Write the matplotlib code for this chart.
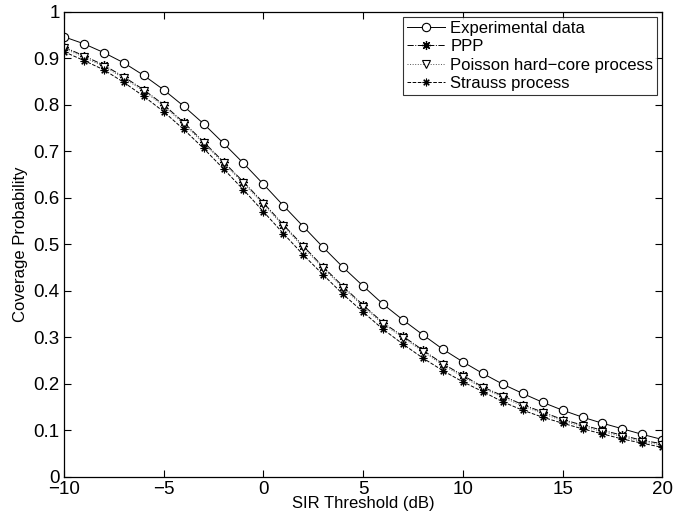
import matplotlib
matplotlib.use("Agg")
import matplotlib.pyplot as plt
import numpy as np

plt.rcParams['font.family'] = ['Liberation Sans', 'DejaVu Sans']
plt.rcParams['axes.unicode_minus'] = True

sir_db = list(range(-10, 21))

experimental = [0.946, 0.931, 0.912, 0.890, 0.863, 0.832, 0.797, 0.759, 0.717, 0.674,
                0.629, 0.583, 0.538, 0.493, 0.450, 0.410, 0.371, 0.337, 0.305, 0.274,
                0.247, 0.222, 0.199, 0.179, 0.160, 0.143, 0.128, 0.115, 0.103, 0.091, 0.080]

hard_core = [0.921, 0.902, 0.882, 0.857, 0.829, 0.797, 0.759, 0.717, 0.674, 0.631,
             0.586, 0.539, 0.493, 0.448, 0.406, 0.366, 0.328, 0.299, 0.269, 0.240,
             0.215, 0.190, 0.171, 0.152, 0.136, 0.120, 0.108, 0.097, 0.086, 0.075, 0.068]

ppp = [0.924, 0.905, 0.885, 0.860, 0.832, 0.800, 0.762, 0.720, 0.677, 0.634,
       0.589, 0.542, 0.496, 0.451, 0.409, 0.369, 0.331, 0.302, 0.272, 0.243,
       0.218, 0.193, 0.174, 0.155, 0.139, 0.123, 0.111, 0.100, 0.089, 0.078, 0.071]

strauss = [0.914, 0.895, 0.875, 0.848, 0.818, 0.785, 0.747, 0.706, 0.662, 0.617,
           0.570, 0.523, 0.477, 0.434, 0.392, 0.354, 0.317, 0.285, 0.255, 0.228,
           0.204, 0.183, 0.161, 0.143, 0.128, 0.115, 0.103, 0.092, 0.081, 0.072, 0.063]

series_labels = ['Experimental data', 'PPP', 'Poisson hard\u2212core process', 'Strauss process']
x_ticks = [-10, -5, 0, 5, 10, 15, 20]
y_ticks = [0, 0.1, 0.2, 0.3, 0.4, 0.5, 0.6, 0.7, 0.8, 0.9, 1]
y_tick_labels = ['0', '0.1', '0.2', '0.3', '0.4', '0.5', '0.6', '0.7', '0.8', '0.9', '1']

fig = plt.figure(figsize=(6.99, 5.23), dpi=100)
ax = fig.add_axes([64/699, 1 - 476.7/523, (662.3-64)/699, (476.7-11.7)/523])

lw = 0.7
asterisk = (8, 2, 0)
ax.plot(sir_db, experimental, '-', color='black', lw=lw, marker='o', ms=6,
        mfc='white', mec='black', mew=0.8, label=series_labels[0])
ax.plot(sir_db, ppp, '-.', color='black', lw=lw, marker=asterisk, ms=6.5,
        mec='black', mew=0.9, label=series_labels[1])
ax.plot(sir_db, hard_core, ':', color='#555555', lw=lw, marker='v', ms=6,
        mfc='white', mec='black', mew=0.8, label=series_labels[2])
ax.plot(sir_db, strauss, '--', color='black', lw=lw, marker=asterisk, ms=5.5,
        mec='black', mew=0.8, label=series_labels[3])

ax.set_xlim(-10, 20)
ax.set_ylim(0, 1)
ax.set_xticks(x_ticks)
ax.set_yticks(y_ticks)
ax.set_yticklabels(y_tick_labels)
ax.tick_params(direction='in', length=5, width=0.8, top=True, right=True,
               labelsize=13.5, pad=3)
for s in ax.spines.values():
    s.set_linewidth(0.9)
    s.set_color('black')

ax.set_xlabel('SIR Threshold (dB)', fontsize=12, labelpad=-1)
ax.set_ylabel('Coverage Probability', fontsize=12, labelpad=4)

leg = ax.legend(loc='upper right', fontsize=12, frameon=True, fancybox=False,
                edgecolor='black', borderaxespad=0.3, handlelength=2.3,
                handletextpad=0.3, labelspacing=0.2, borderpad=0.25)
leg.get_frame().set_linewidth(0.8)

fig.savefig('out.png', dpi=100)
